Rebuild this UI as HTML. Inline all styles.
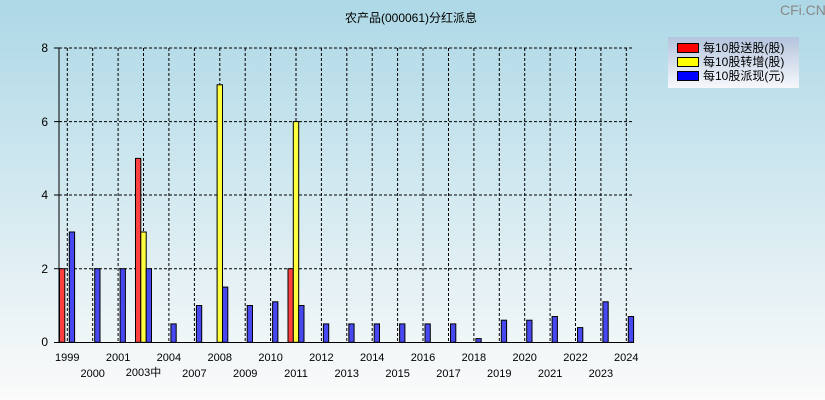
<!DOCTYPE html>
<html><head><meta charset="utf-8"><style>
body{margin:0;width:825px;height:400px;overflow:hidden}
svg{display:block;font-family:"Liberation Sans","Noto Sans CJK SC",sans-serif}
</style></head><body>
<svg width="825" height="400" viewBox="0 0 825 400">
<defs>
<linearGradient id="bg" x1="0" y1="0" x2="0" y2="1"><stop offset="0" stop-color="#add8e6"/><stop offset="1" stop-color="#fbfbfb"/></linearGradient>
<linearGradient id="lg" x1="0" y1="0" x2="0" y2="1"><stop offset="0" stop-color="#b4c4de"/><stop offset="1" stop-color="#f6f7fb"/></linearGradient>
</defs>
<rect width="825" height="400" fill="url(#bg)"/>
<text x="780" y="15" font-size="14" fill="#888">CFi.CN</text>
<text x="411" y="22" font-size="12" text-anchor="middle" fill="#000">农产品(000061)分红派息</text>
<g stroke="#000" stroke-dasharray="3,2" stroke-width="1" fill="none">
<line x1="59" y1="48" x2="634" y2="48"/><line x1="59" y1="121.6" x2="634" y2="121.6"/><line x1="59" y1="195" x2="634" y2="195"/><line x1="59" y1="268.7" x2="634" y2="268.7"/>
<path d="M67.3 48V342M92.7 48V342M118.1 48V342M143.5 48V342M168.9 48V342M194.4 48V342M219.8 48V342M245.2 48V342M270.6 48V342M296 48V342M321.4 48V342M346.8 48V342M372.2 48V342M397.6 48V342M423 48V342M448.5 48V342M473.9 48V342M499.3 48V342M524.7 48V342M550.1 48V342M575.5 48V342M600.9 48V342M626.3 48V342"/>
</g>
<g stroke="#000" stroke-width="1">
<line x1="59" y1="48" x2="59" y2="342.5"/><line x1="54" y1="342.5" x2="634" y2="342.5"/>
<line x1="54" y1="48" x2="59" y2="48"/><line x1="54" y1="121.6" x2="59" y2="121.6"/><line x1="54" y1="195" x2="59" y2="195"/><line x1="54" y1="268.7" x2="59" y2="268.7"/>
</g>
<g font-size="12" fill="#000" text-anchor="end">
<text x="48" y="52">8</text><text x="48" y="126">6</text><text x="48" y="199">4</text><text x="48" y="273">2</text><text x="48" y="346">0</text>
</g>
<g stroke="#000" stroke-width="1">
<g fill="#ff4040">
<rect x="59.5" y="268.7" width="5.3" height="73.6"/>
<rect x="135.5" y="158.4" width="5.3" height="183.9"/>
<rect x="288" y="268.7" width="5.3" height="73.6"/>
</g>
<g fill="#ffff40">
<rect x="140.8" y="232" width="5.4" height="110.3"/>
<rect x="217.1" y="84.8" width="5.4" height="257.5"/>
<rect x="293.3" y="121.6" width="5.4" height="220.7"/>
</g>
<g fill="#4848f0">
<rect x="69.3" y="232" width="5.3" height="110.3"/>
<rect x="94.7" y="268.7" width="5.3" height="73.6"/>
<rect x="120.1" y="268.7" width="5.3" height="73.6"/>
<rect x="146.2" y="268.7" width="5.3" height="73.6"/>
<rect x="170.9" y="323.9" width="5.3" height="18.4"/>
<rect x="196.4" y="305.5" width="5.3" height="36.8"/>
<rect x="222.5" y="287.1" width="5.3" height="55.2"/>
<rect x="247.2" y="305.5" width="5.3" height="36.8"/>
<rect x="272.6" y="301.8" width="5.3" height="40.5"/>
<rect x="298.7" y="305.5" width="5.3" height="36.8"/>
<rect x="323.4" y="323.9" width="5.3" height="18.4"/>
<rect x="348.8" y="323.9" width="5.3" height="18.4"/>
<rect x="374.2" y="323.9" width="5.3" height="18.4"/>
<rect x="399.6" y="323.9" width="5.3" height="18.4"/>
<rect x="425" y="323.9" width="5.3" height="18.4"/>
<rect x="450.5" y="323.9" width="5.3" height="18.4"/>
<rect x="475.9" y="338.6" width="5.3" height="3.7"/>
<rect x="501.3" y="320.2" width="5.3" height="22.1"/>
<rect x="526.7" y="320.2" width="5.3" height="22.1"/>
<rect x="552.1" y="316.5" width="5.3" height="25.8"/>
<rect x="577.5" y="327.6" width="5.3" height="14.7"/>
<rect x="602.9" y="301.8" width="5.3" height="40.5"/>
<rect x="628.3" y="316.5" width="5.3" height="25.8"/>
</g>
</g>
<g font-size="11" fill="#000" text-anchor="middle">
<text x="67.3" y="361">1999</text><text x="118.1" y="361">2001</text><text x="168.9" y="361">2004</text><text x="219.8" y="361">2008</text><text x="270.6" y="361">2010</text><text x="321.4" y="361">2012</text><text x="372.2" y="361">2014</text><text x="423" y="361">2016</text><text x="473.9" y="361">2018</text><text x="524.7" y="361">2020</text><text x="575.5" y="361">2022</text><text x="626.3" y="361">2024</text>
<text x="92.7" y="377">2000</text><text x="143.5" y="376">2003中</text><text x="194.4" y="377">2007</text><text x="245.2" y="377">2009</text><text x="296" y="377">2011</text><text x="346.8" y="377">2013</text><text x="397.6" y="377">2015</text><text x="448.5" y="377">2017</text><text x="499.3" y="377">2019</text><text x="550.1" y="377">2021</text><text x="600.9" y="377">2023</text>
</g>
<rect x="668" y="37" width="131" height="51" fill="url(#lg)"/>
<g stroke="#000" stroke-width="1">
<rect x="677.5" y="43.5" width="21" height="9" fill="#ff0000"/>
<rect x="677.5" y="57.5" width="21" height="9" fill="#ffff00"/>
<rect x="677.5" y="71.5" width="21" height="9" fill="#0000ff"/>
</g>
<g font-size="12" fill="#000">
<text x="703" y="52">每10股送股(股)</text>
<text x="703" y="66">每10股转增(股)</text>
<text x="703" y="80">每10股派现(元)</text>
</g>
</svg>
</body></html>
